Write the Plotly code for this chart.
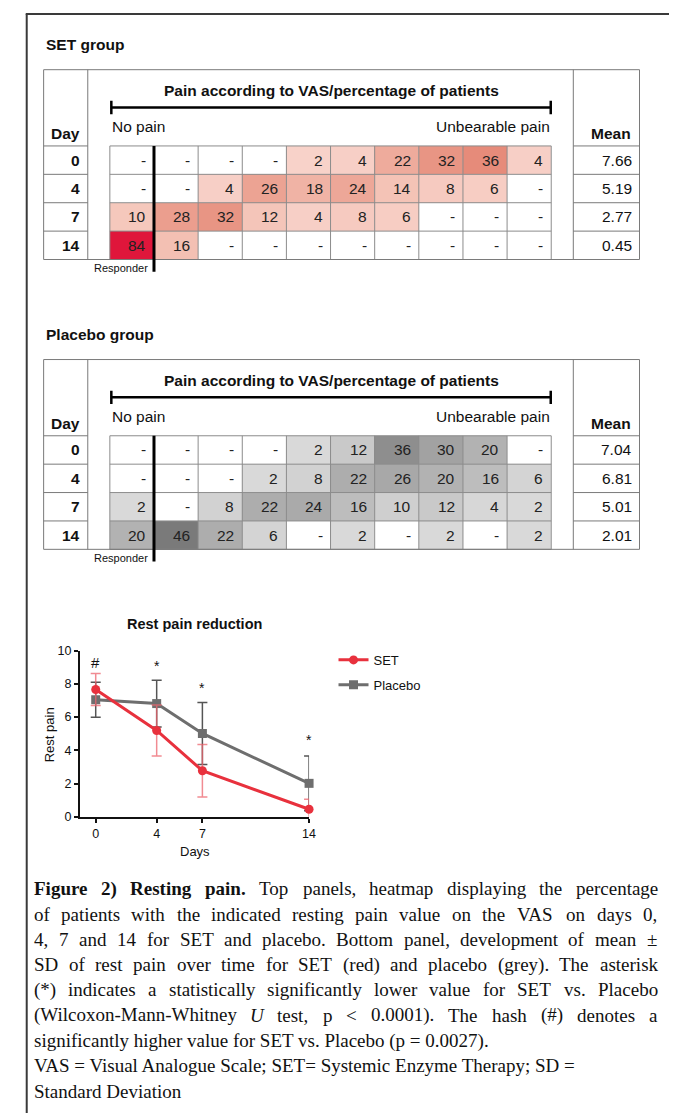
import plotly.graph_objects as go

W, H = 676, 1120

# ---------------- data ----------------
vas_bins = list(range(10))
day_labels = ["0", "4", "7", "14"]
days = [0, 4, 7, 14]

set_pct = [
    [None, None, None, None, 2, 4, 22, 32, 36, 4],
    [None, None, 4, 26, 18, 24, 14, 8, 6, None],
    [10, 28, 32, 12, 4, 8, 6, None, None, None],
    [84, 16, None, None, None, None, None, None, None, None],
]
set_mean = [7.66, 5.19, 2.77, 0.45]

placebo_pct = [
    [None, None, None, None, 2, 12, 36, 30, 20, None],
    [None, None, None, 2, 8, 22, 26, 20, 16, 6],
    [2, None, 8, 22, 24, 16, 10, 12, 4, 2],
    [20, 46, 22, 6, None, 2, None, 2, None, 2],
]
placebo_mean = [7.04, 6.81, 5.01, 2.01]

set_sd = [0.96, 1.53, 1.58, 0.60]
placebo_sd = [1.05, 1.41, 1.86, 1.65]

sig_marks = ["#", "*", "*", "*"]
sig_y = [9.3, 9.1, 7.75, 4.6]

caption_lines = [
    "Figure 2) Resting pain. Top panels, heatmap displaying the percentage",
    "of patients with the indicated resting pain value on the VAS on days 0,",
    "4, 7 and 14 for SET and placebo. Bottom panel, development of mean ±",
    "SD of rest pain over time for SET (red) and placebo (grey). The asterisk",
    "(*) indicates a statistically significantly lower value for SET vs. Placebo",
    "(Wilcoxon-Mann-Whitney U test, p < 0.0001). The hash (#) denotes a",
    "significantly higher value for SET vs. Placebo (p = 0.0027).",
    "VAS = Visual Analogue Scale; SET= Systemic Enzyme Therapy; SD =",
    "Standard Deviation",
]
caption_bold_words = 4       # "Figure 2) Resting pain."
caption_italic_word = "U"
caption_justified = 6        # first six lines are justified

# ---------------- styles ----------------
FT = "Liberation Sans, Arial, sans-serif"
FS = "Liberation Sans, Arial, sans-serif"
FC = "Liberation Serif, Times New Roman, serif"
GRID = "#8c8c8c"
BOX = "#7a7a7a"

red_stops = [(0, "#fbe2dc"), (2, "#f8d2c9"), (16, "#f3c0b3"), (18, "#f0b3a5"),
             (26, "#eca393"), (36, "#e68b7a"), (84, "#df163b")]
grey_stops = [(0, "#e0e0e0"), (2, "#d9d9d9"), (10, "#cfcfcf"), (16, "#bdbdbd"),
              (22, "#adadad"), (30, "#a2a2a2"), (36, "#8e8e8e"), (46, "#7a7a7a")]

# Times (Liberation Serif) advance widths, per 1000 em
_TR = {" ": 250, "#": 500, "(": 333, ")": 333, "*": 500, ",": 250, "-": 333, ".": 250,
       ":": 278, ";": 278, "<": 564, "=": 564, "±": 564,
       "A": 722, "B": 667, "C": 667, "D": 722, "E": 611, "F": 556, "G": 722, "H": 722,
       "I": 333, "J": 389, "K": 722, "L": 611, "M": 889, "N": 722, "O": 722, "P": 556,
       "Q": 722, "R": 667, "S": 556, "T": 611, "U": 722, "V": 722, "W": 944, "X": 722,
       "Y": 722, "Z": 611,
       "a": 444, "b": 500, "c": 444, "d": 500, "e": 444, "f": 333, "g": 500, "h": 500,
       "i": 278, "j": 278, "k": 500, "l": 278, "m": 778, "n": 500, "o": 500, "p": 500,
       "q": 500, "r": 333, "s": 389, "t": 278, "u": 500, "v": 500, "w": 722, "x": 500,
       "y": 500, "z": 444}
_TB = dict(_TR)
_TB.update({"F": 611, "R": 722, "a": 500, "g": 500, "i": 278, "n": 556, "p": 556,
            "r": 444, "s": 389, "t": 333, "u": 556, "e": 444, "2": 500, ")": 333, ".": 250})


def tw(word, table, size):
    return sum(table.get(c, 500) for c in word) * size / 1000.0


def scale(stops):
    top = stops[-1][0]
    return [[v / top, c] for v, c in stops], top


fig = go.Figure()
shapes = []
annots = []
layout_axes = {}


def px(x):
    return x / W


def py(y):
    return 1 - y / H


CELL_L, CELL_W, ROW_T, ROW_H = 111.0, 44.6, 140.7, 28.75


def add_table(idx, dy, title, pct, means, stops):
    xa, ya = f"x{idx}", f"y{idx}"

    def dx(p):
        return (p - CELL_L) / CELL_W - 0.5

    def dv(p):
        return (p - dy - ROW_T) / ROW_H - 0.5

    layout_axes[f"xaxis{idx}"] = dict(domain=[px(28), 1.0], range=[dx(28), dx(676)],
                                      visible=False, fixedrange=True, anchor=ya)
    layout_axes[f"yaxis{idx}"] = dict(domain=[py(dy + 285), py(dy + 15)],
                                      range=[dv(dy + 285), dv(dy + 15)],
                                      visible=False, fixedrange=True, anchor=xa)
    cs, zmax = scale(stops)
    fig.add_trace(go.Heatmap(z=pct, x=vas_bins, y=list(range(len(pct))), colorscale=cs,
                             zmin=0, zmax=zmax, showscale=False, xaxis=xa, yaxis=ya,
                             hoverinfo="skip"))
    nrows = len(pct)
    ncols = len(vas_bins)
    top = dv(dy + 63.5)
    bot = nrows - 0.5

    def line(x0, y0, x1, y1, color=GRID, width=1):
        shapes.append(dict(type="line", xref=xa, yref=ya, x0=x0, y0=y0, x1=x1, y1=y1,
                           line=dict(color=color, width=width)))

    for i in range(ncols + 1):
        line(i - 0.5, -0.5, i - 0.5, bot)
    for r in range(nrows + 1):
        line(-0.5, r - 0.5, ncols - 0.5, r - 0.5)
    line(-2, top, 11.5, top, BOX)
    line(-2, bot, 11.5, bot, BOX)
    for xv in (-2, -1, 10, 11.5):
        line(xv, top, xv, bot, BOX)
    for r in range(nrows):
        line(-2, r - 0.5, -1, r - 0.5, BOX)
        line(10, r - 0.5, 11.5, r - 0.5, BOX)
    line(0.5, -0.5, 0.5, dv(dy + 268), "#000000", 3)
    ys = dv(dy + 101.7)
    line(dx(112), ys, dx(557), ys, "#000000", 2.5)
    line(dx(112.5), dv(dy + 95), dx(112.5), dv(dy + 108.5), "#000000", 2.5)
    line(dx(556.5), dv(dy + 95), dx(556.5), dv(dy + 108.5), "#000000", 2.5)

    def txt(x, y, s, anchor="left", size=15.5, bold=False, color="#111111", font=FT):
        annots.append(dict(xref=xa, yref=ya, x=x, y=y, text=f"<b>{s}</b>" if bold else s,
                           showarrow=False, xanchor=anchor, yanchor="middle",
                           font=dict(family=font, size=size, color=color)))

    txt(dx(44), dv(dy + 38), title, "left", 15.5, True, font=FS)
    txt(dx(334.5), dv(dy + 85), "Pain according to VAS/percentage of patients", "center", 15.5, True)
    txt(dx(111), dv(dy + 121.5), "No pain", "left", 15.5)
    txt(dx(558), dv(dy + 121.5), "Unbearable pain", "right", 15.5)
    txt(dx(83), dv(dy + 128.5), "Day", "right", 15.5, True)
    txt(dx(640), dv(dy + 128.5), "Mean", "right", 15.5, True)
    txt(dx(151.5), dv(dy + 264.5), "Responder", "right", 11)

    for r in range(nrows):
        txt(dx(83), r, day_labels[r], "right", 15.5, True)
        txt(dx(641), r, f"{means[r]:.2f}", "right", 15.5)
        for i in range(ncols):
            v = pct[r][i]
            txt(i + 0.5 - 6 / CELL_W, r, "-" if v is None else str(v), "right", 15.5,
                color="#222222")


add_table(2, 0.0, "SET group", set_pct, set_mean, red_stops)
add_table(3, 293.5, "Placebo group", placebo_pct, placebo_mean, grey_stops)

# ---------------- line chart ----------------
SET_C = "#e8313d"
PLA_C = "#6e6e6e"
fig.add_trace(go.Scatter(
    x=days, y=placebo_mean, name="Placebo", mode="lines+markers",
    line=dict(color=PLA_C, width=3), marker=dict(symbol="square", size=9, color=PLA_C),
    error_y=dict(type="data", array=placebo_sd, color="#555555", thickness=1.5, width=5),
    cliponaxis=False, legendgroup="p", legendrank=2, hoverinfo="skip"))
fig.add_trace(go.Scatter(
    x=days, y=set_mean, name="SET", mode="lines+markers",
    line=dict(color=SET_C, width=3), marker=dict(symbol="circle", size=9, color=SET_C),
    error_y=dict(type="data", array=set_sd, color="rgba(236,100,110,0.75)", thickness=1.5, width=5),
    cliponaxis=False, legendgroup="s", legendrank=1, hoverinfo="skip"))

for d, m, yv in zip(days, sig_marks, sig_y):
    annots.append(dict(xref="x", yref="y", x=d, y=yv, text=m, showarrow=False,
                       font=dict(family=FS, size=15 if m == "#" else 14, color="#111111")))

annots.append(dict(xref="paper", yref="paper", x=px(196.7), y=py(625), text="<b>Rest pain reduction</b>",
                   showarrow=False, xanchor="center", yanchor="middle",
                   font=dict(family=FS, size=14.5, color="#111111")))
annots.append(dict(xref="paper", yref="paper", x=px(196.7), y=py(855), text="Days",
                   showarrow=False, xanchor="center", yanchor="middle",
                   font=dict(family=FS, size=13, color="#111111")))
annots.append(dict(xref="paper", yref="paper", x=px(50), y=py(737), text="Rest pain", textangle=-90,
                   showarrow=False, xanchor="center", yanchor="middle",
                   font=dict(family=FS, size=13, color="#111111")))

# ---------------- caption (justified by word placement) ----------------
CAP_L, CAP_R, CAP_SIZE = 33.0, 663.0, 19
for k, s in enumerate(caption_lines):
    ycap = py(893 + k * 25.6)
    words = s.split(" ")
    styles = []
    for j, wd in enumerate(words):
        if k == 0 and j < caption_bold_words:
            styles.append("b")
        elif wd == caption_italic_word:
            styles.append("i")
        else:
            styles.append("r")
    if k < caption_justified:
        widths = [tw(wd, _TB if st == "b" else _TR, CAP_SIZE) for wd, st in zip(words, styles)]
        gap = (CAP_R - CAP_L - sum(widths)) / (len(words) - 1)
        xcur = CAP_L
        for wd, st, wdt in zip(words, styles, widths):
            t = wd.replace("<", "&lt;")
            if st == "b":
                t = f"<b>{t}</b>"
            elif st == "i":
                t = f"<i>{t}</i>"
            annots.append(dict(xref="paper", yref="paper", x=px(xcur), y=ycap, text=t,
                               showarrow=False, xanchor="left", yanchor="middle", borderpad=0,
                               font=dict(family=FC, size=CAP_SIZE, color="#111111")))
            xcur += wdt + gap
    else:
        annots.append(dict(xref="paper", yref="paper", x=px(CAP_L), y=ycap,
                           text=s.replace("<", "&lt;"), showarrow=False, xanchor="left",
                           yanchor="middle", borderpad=0,
                           font=dict(family=FC, size=CAP_SIZE, color="#111111")))

# frame
shapes.append(dict(type="line", xref="paper", yref="paper", x0=px(27), y0=0, x1=px(27), y1=py(7),
                   line=dict(color="#3a3a3a", width=2)))
shapes.append(dict(type="line", xref="paper", yref="paper", x0=px(26), y0=py(7), x1=1, y1=py(7),
                   line=dict(color="#3a3a3a", width=2)))

fig.update_layout(
    width=W, height=H, margin=dict(l=0, r=0, t=0, b=0),
    paper_bgcolor="white", plot_bgcolor="rgba(0,0,0,0)",
    hovermode=False,
    shapes=shapes, annotations=annots,
    showlegend=True,
    legend=dict(x=px(337), y=py(646), xanchor="left", yanchor="top", traceorder="grouped",
                tracegroupgap=5, font=dict(family=FS, size=13, color="#111111"),
                bgcolor="rgba(0,0,0,0)", itemwidth=30),
    xaxis=dict(domain=[px(80.7), px(312.3)], range=[-1.04, 14], tickvals=days,
               ticks="outside", ticklen=4, tickwidth=1.5, tickcolor="#111111",
               showline=True, linecolor="#111111", linewidth=1.8, showgrid=False, zeroline=False,
               tickfont=dict(family=FS, size=12.5, color="#111111"), fixedrange=True, anchor="y"),
    yaxis=dict(domain=[py(820), py(651.7)], range=[0, 10], dtick=2,
               ticks="outside", ticklen=4, tickwidth=1.5, tickcolor="#111111",
               showline=True, linecolor="#111111", linewidth=1.8, showgrid=False, zeroline=False,
               tickfont=dict(family=FS, size=12.5, color="#111111"), fixedrange=True, anchor="x"),
    **layout_axes,
)

fig.write_html(
    "out.html",
    config={"displayModeBar": False},
    post_script="document.documentElement.style.margin='0';document.body.style.margin='0';"
                "document.body.style.overflow='hidden';",
)
